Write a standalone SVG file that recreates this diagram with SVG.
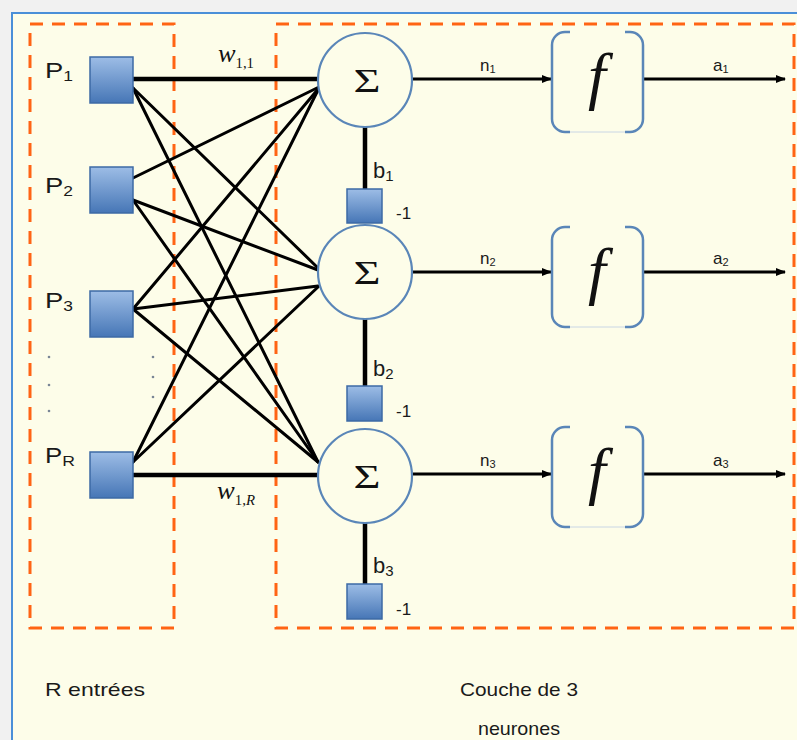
<svg xmlns="http://www.w3.org/2000/svg" width="797" height="740" viewBox="0 0 797 740">
<defs>
<linearGradient id="sq" x1="0" y1="0" x2="0" y2="1">
<stop offset="0" stop-color="#9dbde6"/>
<stop offset="1" stop-color="#4676b6"/>
</linearGradient>
<marker id="arr" viewBox="0 0 10 10" refX="9" refY="5" markerWidth="10" markerHeight="10" markerUnits="userSpaceOnUse" orient="auto">
<path d="M0,1 L10,5 L0,9 Z" fill="#000"/>
</marker>
<style>
.sq{fill:url(#sq);stroke:#3d6aa5;stroke-width:1.5}
.dash{fill:none;stroke:#ff6414;stroke-width:3;stroke-dasharray:13 9}
.sum{fill:#fdfde9;stroke:#5a86b8;stroke-width:2.2}
.w{stroke:#000;stroke-width:3;fill:none;stroke-linecap:round}
.wt{stroke:#000;stroke-width:4.5;fill:none}
.ar{stroke:#000;stroke-width:2.8;fill:none;marker-end:url(#arr)}
.br{fill:none;stroke:#5a86b8;stroke-width:2.5}
.bf{fill:none;stroke:#c9d6e4;stroke-width:1}
.lab{font-family:"Liberation Sans",Arial,sans-serif;fill:#1a1a1a}
.ser{font-family:"Liberation Serif","Times New Roman",serif;fill:#111}
.dot{fill:#7a8696}
</style>
</defs>
<rect x="0" y="0" width="797" height="740" fill="#f1f1f1"/>
<rect x="12" y="13" width="790" height="732" fill="#fdfde9"/>
<path d="M12,745 V13 H800" fill="none" stroke="#4a8fd8" stroke-width="2"/>

<g id="boxes">
<rect class="dash" x="30" y="24" width="144" height="604"/>
<rect class="dash" x="276" y="24" width="518" height="604"/>
</g>

<g id="connectors">
<path class="wt" d="M133,79 H318"/>
<path class="w" d="M133,88 L318,268"/>
<path class="w" d="M133,88 L318,462"/>
<path class="w" d="M133,178 L319,87"/>
<path class="w" d="M133,200 L318,270"/>
<path class="w" d="M133,200 L318,462"/>
<path class="w" d="M133,309 L319,88"/>
<path class="w" d="M133,309 L318,286"/>
<path class="w" d="M133,309 L318,462"/>
<path class="w" d="M133,462 L319,88"/>
<path class="w" d="M133,462 L318,287"/>
<path class="wt" d="M133,475 H318"/>
<path class="wt" d="M365,127 V189"/>
<path class="wt" d="M365,319 V386"/>
<path class="wt" d="M365,523 V584"/>
<path class="ar" d="M413,79 H551"/>
<path class="ar" d="M643,79 H785"/>
<path class="ar" d="M413,272 H551"/>
<path class="ar" d="M643,272 H785"/>
<path class="ar" d="M413,474 H551"/>
<path class="ar" d="M643,474 H785"/>
</g>

<g id="P1"><rect class="sq" x="90" y="57" width="43" height="46"/>
<text class="lab" x="45" y="78" font-size="22" textLength="28" lengthAdjust="spacingAndGlyphs">P<tspan font-size="14" dy="3">1</tspan></text></g>
<g id="P2"><rect class="sq" x="90" y="167" width="43" height="46"/>
<text class="lab" x="45" y="193" font-size="22" textLength="28" lengthAdjust="spacingAndGlyphs">P<tspan font-size="14" dy="3">2</tspan></text></g>
<g id="P3"><rect class="sq" x="90" y="291" width="43" height="46"/>
<text class="lab" x="45" y="308" font-size="22" textLength="28" lengthAdjust="spacingAndGlyphs">P<tspan font-size="14" dy="3">3</tspan></text></g>
<g id="PR"><rect class="sq" x="90" y="452" width="43" height="46"/>
<text class="lab" x="45" y="463" font-size="22" textLength="30" lengthAdjust="spacingAndGlyphs">P<tspan font-size="15" dy="3">R</tspan></text></g>

<g id="dots">
<circle class="dot" cx="49" cy="357" r="1.3"/><circle class="dot" cx="49" cy="385" r="1.3"/><circle class="dot" cx="49" cy="411" r="1.3"/>
<circle class="dot" cx="153" cy="357" r="1.3"/><circle class="dot" cx="153" cy="377" r="1.3"/><circle class="dot" cx="153" cy="397" r="1.3"/>
</g>

<g id="w11"><text class="ser" x="218" y="62" font-size="25" font-style="italic" textLength="36" lengthAdjust="spacingAndGlyphs">w<tspan font-size="14" font-style="normal" dy="6">1,1</tspan></text></g>
<g id="w1R"><text class="ser" x="217" y="499" font-size="25" font-style="italic" textLength="38" lengthAdjust="spacingAndGlyphs">w<tspan font-size="14" font-style="normal" dy="6">1,</tspan><tspan font-size="14">R</tspan></text></g>

<g id="sum1"><circle class="sum" cx="365" cy="80" r="47"/>
<text class="ser" x="367" y="92" font-size="33" text-anchor="middle" textLength="27" lengthAdjust="spacingAndGlyphs">Σ</text></g>
<g id="sum2"><circle class="sum" cx="365" cy="272" r="47"/>
<text class="ser" x="367" y="284" font-size="33" text-anchor="middle" textLength="27" lengthAdjust="spacingAndGlyphs">Σ</text></g>
<g id="sum3"><circle class="sum" cx="365" cy="476" r="47"/>
<text class="ser" x="367" y="488" font-size="33" text-anchor="middle" textLength="27" lengthAdjust="spacingAndGlyphs">Σ</text></g>

<g id="b1"><rect class="sq" x="347" y="189" width="35" height="34"/>
<text class="lab" x="373" y="178" font-size="22">b<tspan font-size="15" dy="3">1</tspan></text>
<text class="lab" x="396" y="219" font-size="17">-1</text></g>
<g id="b2"><rect class="sq" x="347" y="386" width="35" height="35"/>
<text class="lab" x="373" y="376" font-size="22">b<tspan font-size="15" dy="3">2</tspan></text>
<text class="lab" x="396" y="417" font-size="17">-1</text></g>
<g id="b3"><rect class="sq" x="347" y="584" width="35" height="35"/>
<text class="lab" x="373" y="573" font-size="22">b<tspan font-size="15" dy="3">3</tspan></text>
<text class="lab" x="396" y="615" font-size="17">-1</text></g>

<g id="f1">
<path class="bf" d="M570,132 H625"/>
<path class="br" d="M570,32 H565 A13,13 0 0 0 552,45 V119 A13,13 0 0 0 565,132 H570"/>
<path class="br" d="M625,32 H630 A13,13 0 0 1 643,45 V119 A13,13 0 0 1 630,132 H625"/>
<text class="ser" x="597" y="97" font-size="64" font-style="italic" text-anchor="middle">f</text>
</g>
<g id="f2">
<path class="bf" d="M570,327 H625"/>
<path class="br" d="M570,227 H565 A13,13 0 0 0 552,240 V314 A13,13 0 0 0 565,327 H570"/>
<path class="br" d="M625,227 H630 A13,13 0 0 1 643,240 V314 A13,13 0 0 1 630,327 H625"/>
<text class="ser" x="597" y="292" font-size="64" font-style="italic" text-anchor="middle">f</text>
</g>
<g id="f3">
<path class="bf" d="M570,527 H625"/>
<path class="br" d="M570,427 H565 A13,13 0 0 0 552,440 V514 A13,13 0 0 0 565,527 H570"/>
<path class="br" d="M625,427 H630 A13,13 0 0 1 643,440 V514 A13,13 0 0 1 630,527 H625"/>
<text class="ser" x="597" y="492" font-size="64" font-style="italic" text-anchor="middle">f</text>
</g>

<g id="labels">
<text class="lab" x="480" y="71" font-size="17">n<tspan font-size="11" dy="2">1</tspan></text>
<text class="lab" x="713" y="71" font-size="17">a<tspan font-size="11" dy="2">1</tspan></text>
<text class="lab" x="480" y="264" font-size="17">n<tspan font-size="11" dy="2">2</tspan></text>
<text class="lab" x="713" y="264" font-size="17">a<tspan font-size="11" dy="2">2</tspan></text>
<text class="lab" x="480" y="466" font-size="17">n<tspan font-size="11" dy="2">3</tspan></text>
<text class="lab" x="713" y="466" font-size="17">a<tspan font-size="11" dy="2">3</tspan></text>
<text class="lab" x="45" y="696" font-size="19" textLength="100" lengthAdjust="spacingAndGlyphs">R entrées</text>
<text class="lab" x="460" y="696" font-size="19" textLength="118" lengthAdjust="spacingAndGlyphs">Couche de 3</text>
<text class="lab" x="478" y="735" font-size="19" textLength="82" lengthAdjust="spacingAndGlyphs">neurones</text>
</g>
</svg>
